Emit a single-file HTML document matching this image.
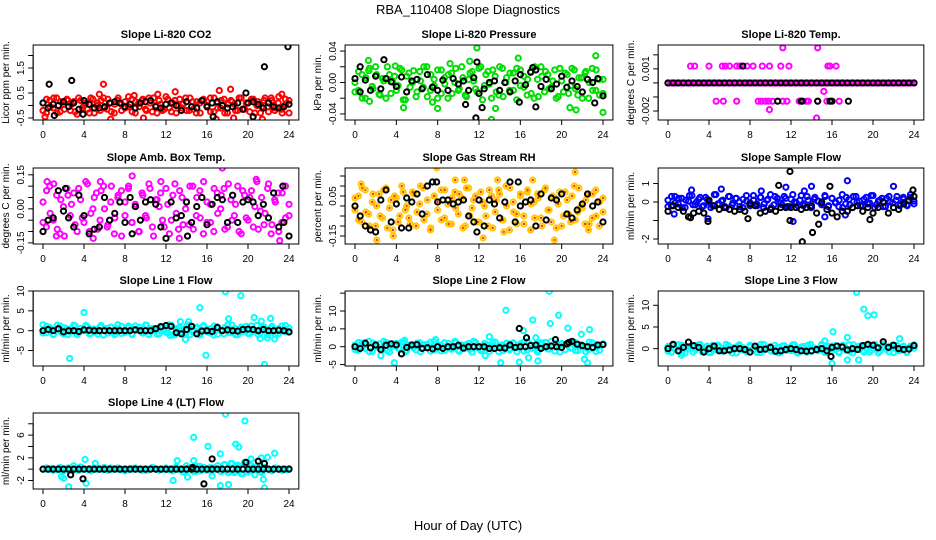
<!DOCTYPE html>
<html><head><meta charset="utf-8"><title>RBA_110408 Slope Diagnostics</title>
<style>
html,body{margin:0;padding:0;background:#fff;}
svg{display:block;font-family:"Liberation Sans",sans-serif;}
</style></head>
<body>
<svg id="chart" width="936" height="540" viewBox="0 0 936 540" xmlns="http://www.w3.org/2000/svg">
<rect width="936" height="540" fill="#fff"/>
<text x="468" y="14" text-anchor="middle" font-size="13">RBA_110408  Slope Diagnostics</text>
<text x="468" y="530" text-anchor="middle" font-size="13">Hour of Day (UTC)</text>
</svg>
<script>
// ---- shared x ticks ----
const xTicks = [0,4,8,12,16,20,24];

// ---- P1 Li-820 CO2 ----
const co2Band = [0.1,-0.3,0.2,-0.1,0.3,-0.25,0.05,0.25,-0.2,0.15,-0.35,0.2,0,-0.15,0.3,-0.3,0.1,0.2,-0.1,0.25,-0.25,0.05,0.3,-0.2,0.15,-0.05,0.25,-0.3,0.1,0.2,-0.15,0.3,-0.25,0,0.2,-0.2,0.35,-0.1,0.1,-0.3,0.25,0.05,-0.2,0.3,-0.15,0.15,-0.3,0.2,0,0.3,-0.25,0.1,-0.1,0.25,-0.3,0.2,0.05,-0.2,0.3,-0.15,0.1,0.25,-0.3,0.15,-0.05,0.3,-0.25,0.2,-0.1,0.35,-0.3,0.05,0.2];
const co2BandB = [-0.2,0.25,-0.05,0.3,-0.3,0.15,-0.15,0.2,0.05,-0.25,0.3,-0.1,0.1,-0.3,0.25,0,-0.2,0.3,-0.15,0.1,-0.3,0.2,0.05,-0.1,0.35,-0.25,0.15,-0.05,0.25,-0.2,0.1,0.3,-0.3,0.05,-0.15,0.25,-0.25,0.2,0,-0.1,0.3,-0.2,0.15,-0.3,0.1,0.25,-0.05,-0.25,0.3,-0.1,0.2,-0.3,0.05,0.15,-0.2,0.3,-0.15,0.1,-0.25,0.25,0,-0.3,0.2,-0.05,0.3,-0.2,0.1,-0.15,0.25,-0.3];
const co2BandOut = [[5.9,0.85],[5.5,0.45],[17.2,0.6],[18.3,0.65],[12.9,0.55],[16.9,-0.55],[18.6,-0.5],[6.6,-0.55],[21.4,-0.55],[8.9,0.4],[9.8,-0.5],[0.2,-0.45],[11.2,0.45],[23.3,0.45]];
const co2Black = [0.1,-0.1,0.05,0,0.15,-0.05,0.1,-0.15,0.2,0.05,-0.1,-0.1,-0.05,0.1,0.15,0.1,-0.05,0.05,-0.1,0.1,0.15,0.2,-0.05,-0.1,0.05,0.1,0,-0.2,0.15,-0.05,-0.1,0.2,-0.05,0.1,0.15,0,-0.1,-0.05,0.1,-0.15,0.1,0.15,0.05,-0.1,0.1,-0.05,-0.1,-0.05,0.05];
const co2BlackOut = [[0.6,0.85],[2.8,1.0],[21.6,1.55],[23.9,2.35],[19.8,0.5],[1.1,-0.4],[3.9,-0.35],[20.5,-0.45],[16.6,-0.45]];
const co2Ticks = [-0.5,0,0.5,1,1.5,2];
const co2Labels = ["-0.5","","0.5","","1.5",""];

// ---- P2 Li-820 Pressure ----
const presBand = [0,-0.01,0.01,-0.02,0.015,-0.005,0.02,-0.015,0.005,-0.02,0.01,0,-0.01,0.018,-0.022,0.008,-0.006,0.015,-0.012,0.002,0.02,-0.018,0.01,-0.004,0.016,-0.014,0.006,-0.02,0.012,0,-0.01,0.02,-0.016,0.004,0.014,-0.008,0.018,-0.022,0.01,-0.002,0.016,-0.012,0.02,-0.018,0.006,0.012,-0.01,0.018,-0.004,0.008,-0.016,0.014,-0.02,0.004,0.02,-0.012,0.01,-0.006,0.016,-0.018,0.002,0.012,-0.014,0.018,-0.008,0.006,-0.02,0.014,0,-0.01,0.016,-0.016,0.004];
const presBandB = [-0.012,0.014,-0.02,0.006,0.018,-0.008,0.01,-0.016,0.002,0.02,-0.014,0.008,-0.004,0.016,-0.022,0.012,0,-0.018,0.014,-0.006,0.02,-0.01,0.004,-0.02,0.016,-0.002,0.01,-0.014,0.018,-0.008,0.006,-0.018,0.012,0.002,-0.012,0.02,-0.004,0.014,-0.02,0.008,-0.016,0.018,0,-0.01,0.012,-0.022,0.016,-0.006,0.004,-0.014,0.02,-0.018,0.008,0.014,-0.008,0.002,-0.02,0.018,-0.012,0.01,-0.004,0.016,-0.016,0.006,0.012,-0.02,0.018,-0.01,0.004,-0.014];
const presBandOut = [[11.8,0.044],[15.8,0.031],[23.3,0.034],[1.3,0.028],[13.2,-0.047],[24,-0.038],[21.4,-0.035],[20.8,-0.032],[4.7,-0.032],[13.6,-0.033],[8,-0.033],[7.5,-0.025],[1.4,-0.024],[11.1,0.027],[9.2,0.024],[3.9,0.021]];
const presBlack = [0.005,-0.012,0.003,-0.01,0.008,-0.008,0.005,0.001,-0.005,0.007,-0.012,0.002,0.004,-0.008,0.01,-0.006,-0.01,0.003,-0.01,0.005,-0.002,0.002,-0.01,0.006,-0.014,-0.008,0,0.002,-0.01,0,-0.012,0.002,0.01,-0.003,0.013,0.016,-0.005,0.004,-0.008,-0.002,0.008,-0.006,0.002,-0.005,-0.012,0.004,0,0.005,-0.017];
const presBlackOut = [[2.8,0.029],[11.8,0.026],[11.7,-0.045],[12.3,-0.032],[10.7,-0.028],[15.9,-0.025],[17.5,-0.031],[23.2,-0.026],[0.5,0.02],[17.2,0.019]];
const presTicks = [-0.04,-0.02,0,0.02,0.04];
const presLabels = ["-0.04","","0.00","","0.04"];

// ---- P3 Li-820 Temp ----
const ltBand = [0,0,0,0,0,0,0,0,0,0,0,0,0,0,0,0,0,0,0,0,0,0,0,0,0,0,0,0,0,0,0,0,0,0,0,0,0,0,0,0,0,0,0,0,0,0,0,0,0,0,0,0,0,0,0,0,0,0,0,0,0,0,0,0,0,0,0,0,0,0,0,0,0,0,0,0,0,0,0,0,0,0,0,0,0,0,0,0,0,0,0,0,0,0,0,0,0];
const ltBandB = [0,0,0,0,0,0,0,0,0,0,0,0,0,0,0,0,0,0,0,0,0,0,0,0,0,0,0,0,0,0,0,0,0,0,0,0,0,0,0,0,0,0,0,0,0,0,0,0,0,0,0,0,0,0,0,0,0,0,0,0,0,0,0,0,0,0,0,0,0,0];
const ltBandOut = [[2.2,0.0012],[2.6,0.0012],[4,0.0012],[5.3,0.0012],[5.6,0.0012],[6,0.0012],[6.7,0.0012],[7,0.0012],[7.7,0.0012],[8.3,0.0012],[9.2,0.0012],[9.9,0.0012],[11,0.0012],[11.8,0.0012],[15.6,0.0012],[15.8,0.0012],[16.4,0.0012],[11.2,0.0025],[14.6,0.0025],[4.7,-0.0013],[5.4,-0.0013],[6.7,-0.0013],[8.8,-0.0013],[9.1,-0.0013],[9.5,-0.0013],[9.8,-0.0013],[10.2,-0.0013],[11.2,-0.0013],[11.6,-0.0013],[12.8,-0.0013],[13.5,-0.0013],[13.7,-0.0013],[14.6,-0.0013],[15.5,-0.0013],[16.7,-0.0013],[15.2,-0.0006],[9.9,-0.0019],[14.5,-0.0025]];
const ltBlack = [0,0,0,0,0,0,0,0,0,0,0,0,0,0,0,0,0,0,0,0,0,0,0,0,0,0,0,0,0,0,0,0,0,0,0,0,0,0,0,0,0,0,0,0,0,0,0,0,0];
const ltBlackOut = [[7.3,0.0012],[10.7,-0.0013],[13,-0.0013],[13.1,-0.0013],[14.6,-0.0013],[15.8,-0.0013],[16,-0.0013],[17.6,-0.0013]];
const ltTicks = [-0.002,-0.001,0,0.001,0.002];
const ltLabels = ["-0.002","","","0.001",""];

// ---- P4 Amb Box Temp ----
const abBand = [0.03,-0.08,0.1,-0.05,0.06,-0.11,0.01,0.09,-0.03,0.07,-0.1,0.04,-0.06,0.11,-0.02,0.05,-0.09,0.08,0,-0.07,0.1,-0.04,0.06,-0.12,0.03,0.09,-0.06,0.02,-0.1,0.07,-0.03,0.11,-0.08,0.04,0.01,-0.05,0.09,-0.11,0.06,-0.02,0.08,-0.07,0.03,0.1,-0.09,0.05,-0.04,0.12,-0.06,0.02,-0.1,0.07,0,0.09,-0.08,0.04,-0.03,0.1,-0.11,0.06,-0.05,0.08,0.01,-0.09,0.05,-0.02,0.11,-0.07,0.03,-0.1,0.07,-0.04,0.02];
const abBandB = [-0.06,0.08,-0.02,0.11,-0.09,0.04,-0.12,0.06,0.02,-0.07,0.09,-0.04,0.12,-0.1,0,0.07,-0.05,0.1,-0.08,0.03,-0.11,0.05,0.08,-0.03,0.1,-0.06,0.01,-0.1,0.06,-0.04,0.09,-0.12,0.04,0.07,-0.08,0.02,-0.05,0.11,-0.09,0.05,0,-0.07,0.1,-0.03,0.08,-0.11,0.03,-0.06,0.09,-0.02,0.06,-0.09,0.11,-0.05,0.02,-0.1,0.08,-0.04,0.05,-0.08,0.12,-0.01,-0.07,0.09,-0.11,0.04,0.07,-0.06,0.1,-0.03];
const abBandOut = [[17.5,0.18],[23.1,-0.14],[8.7,0.145],[0.4,0.12],[13.3,-0.13],[11.5,0.12],[4.9,-0.13],[20.8,0.13],[1.3,-0.12],[5.6,0.12]];
const abBlack = [-0.1,-0.05,-0.04,0.08,-0.01,-0.04,-0.08,0.06,-0.03,-0.11,-0.09,-0.08,0.05,-0.05,-0.02,0.03,-0.06,0.05,0.01,-0.05,0.03,0.04,0.02,-0.08,-0.13,0.03,-0.04,-0.03,0.03,-0.06,0.01,0.05,-0.07,0.02,0.05,0.04,-0.06,0.06,-0.06,0.03,0.04,0.03,-0.03,0.02,-0.04,0.07,-0.08,-0.06,-0.12];
const abBlackOut = [[2.2,0.09],[8.7,-0.11],[14.1,-0.12],[23.4,0.1]];
const abTicks = [-0.15,-0.1,-0.05,0,0.05,0.1,0.15];
const abLabels = ["-0.15","","","0.00","","","0.15"];

// ---- P5 Gas Stream RH ----
const rhBand = [-0.02,0.05,-0.08,0.08,-0.04,0.02,-0.1,0.06,-0.06,0.09,-0.01,-0.12,0.04,-0.05,0.07,0,-0.09,0.06,-0.03,0.1,-0.07,0.03,-0.11,0.05,-0.02,0.08,-0.06,0.01,-0.09,0.07,-0.04,0.04,-0.1,0.09,-0.01,0.05,-0.08,0.02,-0.05,0.08,-0.11,0.03,0.06,-0.07,0,0.09,-0.03,-0.09,0.05,-0.05,0.07,-0.12,0.02,0.06,-0.06,0.08,-0.02,-0.08,0.04,0.01,-0.1,0.07,-0.04,0.05,-0.07,0.09,-0.01,0.03,-0.09,0.06,-0.05,0.02,-0.03];
const rhBandB = [0.04,-0.07,0.09,-0.03,-0.1,0.06,0,-0.05,0.08,-0.11,0.03,0.05,-0.08,0.1,-0.02,-0.06,0.07,-0.1,0.01,0.09,-0.04,-0.12,0.05,0.02,-0.07,0.08,-0.09,0.04,-0.01,0.06,-0.11,0.09,-0.05,0.03,-0.08,0.07,0,-0.1,0.05,-0.03,0.08,-0.07,0.1,-0.12,0.02,-0.04,0.06,-0.09,0.08,0.01,-0.06,0.04,-0.1,0.09,-0.02,0.05,-0.11,0.07,-0.05,0.03,-0.08,0.1,-0.03,0,-0.09,0.06,-0.06,0.08,-0.1,0.04];
const rhBandOut = [[7.9,0.19],[21.3,0.17],[2.1,-0.17],[19.3,-0.17],[12.4,-0.16],[9.7,0.13],[10.6,0.13],[13.8,0.13],[17.2,0.13],[0.6,0.11],[3.7,-0.15],[14.4,-0.13],[22.6,-0.12]];
const rhBlack = [0,-0.05,-0.1,-0.12,-0.13,0.03,0.08,-0.08,0.01,-0.11,0.04,0.02,0.06,-0.04,0.1,0.12,0.02,0.03,0.03,0.01,0.02,0.03,-0.05,-0.08,0.03,-0.1,0.03,0.01,-0.06,0.02,0.12,-0.08,0,0.02,0.03,-0.1,0.06,-0.07,0.04,0.03,0.06,-0.04,-0.06,-0.02,0.01,0.06,0,0.02,-0.08];
const rhBlackOut = [[7.9,0.12],[15.8,0.12],[11.8,-0.13],[5.2,-0.11]];
const rhTicks = [-0.15,-0.1,-0.05,0,0.05,0.1,0.15];
const rhLabels = ["-0.15","","","","0.05","",""];

// ---- P6 Sample Flow ----
const sfBand = [0.1,-0.2,0.3,-0.1,0.2,-0.3,0.05,0.35,-0.15,0.15,-0.25,0.25,0,-0.2,0.4,-0.1,0.1,-0.3,0.3,-0.05,0.2,-0.25,0.15,0.05,-0.2,0.35,-0.1,0.25,-0.3,0.1,0.4,-0.15,0.2,-0.05,0.3,-0.25,0.15,0,-0.2,0.35,-0.1,0.1,-0.3,0.25,0.05,-0.15,0.3,-0.2,0.2,0,-0.25,0.4,-0.1,0.15,-0.3,0.3,0.05,-0.2,0.25,-0.05,0.35,-0.15,0.1,-0.25,0.2,0,-0.3,0.3,-0.1,0.15,-0.2,0.25,0.05];
const sfBandB = [-0.25,0.3,-0.05,0.2,-0.3,0.1,0.35,-0.15,0,0.25,-0.2,0.15,-0.3,0.4,-0.1,0.05,-0.25,0.3,-0.15,0.2,0,-0.3,0.35,-0.05,0.1,-0.2,0.25,-0.1,0.15,-0.3,0.3,0,-0.15,0.2,-0.25,0.4,-0.05,0.1,-0.2,0.3,-0.3,0.15,0.05,-0.1,0.35,-0.25,0.2,-0.05,0.1,-0.3,0.25,-0.15,0.3,0,-0.2,0.15,-0.1,0.35,-0.3,0.05,0.2,-0.25,0.3,-0.05,0.1,-0.2,0.25,-0.15,0.4,-0.1];
const sfBandOut = [[17.5,1.15],[22,0.85],[14,0.85],[12.2,-1.05],[0.6,-0.65],[3.9,-0.9],[5.2,0.7],[2.3,0.65],[11.5,0.8],[13.3,0.6],[15.3,-0.8],[17.3,-0.7],[9.1,0.6]];
const sfBlack = [-0.5,-0.2,-0.3,-0.5,-0.8,-0.6,-0.5,-0.6,0.1,-0.2,-0.4,-0.3,-0.4,-0.5,-0.4,-0.5,-0.1,-0.2,-0.6,-0.5,-0.4,-0.5,-0.3,-0.3,-0.3,-0.3,-0.4,-0.3,-0.2,-0.6,0,-0.4,-0.6,-0.8,-0.5,-0.5,-0.3,-0.2,-0.5,-0.3,-0.6,-0.3,0,-0.6,-0.3,-0.4,-0.1,0.1,0.3];
const sfBlackOut = [[11.9,1.65],[13.1,-2.15],[14.1,-1.65],[14.7,-1.2],[10.8,0.9],[15.8,0.85],[2.2,-0.85],[3.9,-1.05],[7.8,-0.9],[19.7,-0.95],[11.9,-1.0],[23.9,0.65]];
const sfTicks = [-2,-1,0,1];
const sfLabels = ["-2","","0","1"];

// ---- P7 Line 1 Flow ----
const l1Band = [1.5,-0.5,0.8,-1,0.3,1.2,-0.8,0.5,-0.3,1.4,-1,0.6,0,1,-0.7,0.4,-0.9,1.3,0.2,-0.6,0.9,-1,0.5,1.1,-0.4,0.7,-0.8,1.2,0,-0.5,1.4,-1,0.6,0.3,-0.8,1,-0.4,1.5,-1.1,0.4,0.8,-0.6,1.2,-1,0.2,0.9,-0.7,1.3,-0.3,0.5,-1.1,1,0.1,-0.8,1.4,-0.5,0.6,-1,0.9,0.3,-0.7,1.2,-0.2,-1,0.8,0.4,-0.6,1.1,-0.9,0.5,0,1.3,-0.4];
const l1BandB = [-0.6,1.1,0.2,-0.9,1.4,-0.3,0.7,-1,0.5,1.2,-0.5,0,1.3,-0.8,0.4,-0.2,1,-1.1,0.6,0.9,-0.4,1.5,-0.7,0.1,1.2,-1,0.3,0.8,-0.6,1.4,-0.2,0.5,-0.9,1.1,0,-0.5,1.3,-1,0.7,0.2,-0.8,1.5,-0.3,0.6,-1.1,1,0.4,-0.6,1.2,-0.9,0.1,0.8,-0.4,1.4,-1,0.5,-0.2,1.1,-0.7,0.3,1.3,-0.5,0.9,-1.1,0.6,0,-0.8,1.2,-0.3,0.7];
const l1BandOut = [[17.8,9.8],[19.3,8.8],[4,4.6],[15.3,5.8],[2.6,-7],[15.9,-6.2],[21.6,-8.5],[18.1,3],[21.3,2.4],[22.2,3.1],[20.6,3.3],[21.2,-2],[21.9,-1.8],[22.6,-2.1],[13.9,-2.2],[12.4,-1.2],[14.2,2.3],[13.4,2.3]];
const l1Black = [0,0.3,0,0.5,-0.3,0,0,-0.2,0.2,0.1,0,0,0,0,0,0,0,0,0.2,0,0,0,0.5,1,1.3,1.1,-0.5,-0.8,0.3,1.1,-0.8,-0.1,0,-0.2,0.8,0,0.2,0,-0.1,0.3,0.4,0.3,0,0.3,0,0,0.1,0,-0.3];
const l1BlackOut = [];
const l1Ticks = [-5,0,5,10];
const l1Labels = ["-5","0","5","10"];

// ---- P8 Line 2 Flow ----
const l2Band = [0.5,-1,1,-0.5,1.5,-1.3,0,0.8,-0.8,1.2,-1.5,0.3,0.9,-0.6,1.4,-1.1,0.2,-0.3,1,-1.4,0.6,-0.2,1.3,-0.9,0.4,-1.2,1.1,0,-0.7,1.5,-1,0.5,-0.4,0.9,-1.5,1.2,0.1,-0.8,0.7,-1.3,1.4,-0.1,0.3,-1.1,1,-0.5,0.8,-1.4,0.2,1.3,-0.9,0.6,-0.2,-1.5,1.1,0,-0.6,1.5,-1.2,0.4,0.9,-0.8,1.2,-0.3,-1.1,0.7,0.1,-1.4,1.3,-0.5,0.5,-1,0.8];
const l2BandB = [-0.8,1.2,-0.2,0.6,-1.4,1,0.3,-0.6,1.5,-1.1,0,0.8,-0.4,1.3,-1.5,0.5,0.1,-0.9,1.1,-0.3,0.7,-1.2,1.4,-0.1,0.4,-1,0.9,-0.5,1.2,-1.3,0.2,0.6,-0.8,1.5,-0.2,-1.1,0.9,0.3,-0.6,1.3,-1.4,0.5,0,-0.9,1.1,-0.3,0.8,-1.2,1.4,-0.5,0.2,-1,0.7,1.2,-0.7,-0.1,1,-1.5,0.4,0.9,-0.4,1.3,-1.1,0.6,0,-0.8,1.1,-1.3,0.3,0.7];
const l2BandOut = [[18.8,15.5],[14.6,10.2],[19.7,8.8],[17.2,7.5],[18.9,6.5],[20.6,5.2],[22.7,4.8],[16.3,4.5],[21.9,3.5],[17.5,2.5],[2.5,-2.5],[3.8,-4.5],[14.1,-4.5],[15.9,-4.3],[16.8,-3.1],[17.7,-4],[22.2,-3.5],[22.5,-4.5],[12.6,-2.5],[13,2.8],[7.8,2],[4.8,1.8]];
const l2Black = [0,-0.5,1,-0.3,0.5,-0.8,0.4,0.8,0.5,-2,-0.2,0.5,0.6,-0.5,-0.3,-0.6,0,-0.5,0,0,0.4,-0.4,0,0,0,0,-0.5,-0.5,-0.3,-0.4,0.5,-0.2,0,0,0.3,0.5,-0.5,0,0.2,0,-0.2,0.8,1.5,0.7,0.3,0,-0.2,0.5,0.6];
const l2BlackOut = [[15.9,5.1],[16.6,2.5],[19.4,2],[20.7,1.2]];
const l2Ticks = [-5,0,5,10,15];
const l2Labels = ["-5","0","5","10",""];

// ---- P9 Line 3 Flow ----
const l3Band = [0.5,-0.8,0.2,-0.5,0.8,-1,0,0.6,-0.3,0.9,-0.7,0.3,-0.9,0.7,-0.2,0.4,-0.6,1,-0.4,0.1,-1,0.6,0.2,-0.7,0.8,-0.3,0.4,-0.9,1,-0.1,0.5,-0.6,0.3,-0.8,0.7,0,-0.5,0.9,-1,0.4,-0.2,0.8,-0.6,0.1,-0.4,1,-0.9,0.5,-0.1,0.7,-0.7,0.3,-0.3,0.9,-1,0.2,0.6,-0.5,0.8,-0.8,0,0.4,-0.6,1,-0.2,0.5,-0.9,0.7,-0.4,0.3,-0.7,0.6,0.1];
const l3BandB = [-0.6,0.7,-0.2,0.9,-1,0.3,0.5,-0.8,0.1,1,-0.4,0.6,-0.9,0.2,0.8,-0.5,-0.1,0.7,-1,0.4,0.9,-0.3,-0.7,0.5,0,-0.9,1,-0.2,0.3,-0.6,0.8,-1,0.6,-0.4,0.2,0.9,-0.7,-0.1,0.5,-0.8,1,0.1,-0.5,0.7,-0.9,0.3,0.6,-0.3,-1,0.8,0,-0.6,0.9,-0.2,0.4,-0.8,0.7,-0.4,1,-1,0.2,0.5,-0.7,0.8,-0.1,-0.5,0.6,-0.9,0.3,0.9];
const l3BandOut = [[18.4,13],[19.1,9.1],[19.5,7.6],[20.1,7.8],[16.1,3.9],[17.5,2.6],[17.5,-2.6],[18.6,-2.6],[16,-3.4],[22.6,2.3],[1.3,-1.5],[15.3,1.8]];
const l3Black = [0,1,-0.5,0.3,1.5,0.7,0.3,-0.8,0,0.6,-0.5,-0.5,-0.3,0,0,-0.2,-0.8,0.6,-0.2,-0.1,0.3,-0.6,-0.5,-0.2,0,-0.2,-0.5,-0.6,-0.5,-0.2,0,-0.5,0.3,0.6,0.4,-0.3,0,-0.2,0.7,1,0.8,0.2,1.6,0.3,0.8,0,-0.2,-0.1,0.7];
const l3BlackOut = [[15.9,-1.8]];
const l3Ticks = [0,5,10];
const l3Labels = ["0","5","10"];

// ---- P10 Line 4 (LT) Flow ----
const l4Band = [0,0.2,0,-0.2,0,0.3,-0.3,0,0.2,0,-0.2,0.4,0,0,-0.3,0.2,0,0,0.3,-0.2,0,0,0.2,0,-0.3,0,0,0.2,0,-0.2,0,0,0.3,0,-0.2,0,0.2,0,-0.3,0.4,0,-0.5,0.6,0,-0.4,0.5,-0.3,0.3,0,-0.2,0.2,0,-0.4,0.8,-0.5,1,-0.6,0.7,-0.8,1.2,-0.5,0.6,-1,0.4,-0.6,0.3,0,-0.3,0.2,0,-0.2,0,0.1];
const l4BandB = [0,0,0.1,0,-0.1,0,0,0.2,0,0,-0.2,0,0,0.1,0,0,0,-0.1,0,0.2,0,0,-0.1,0,0,0.1,0,0,0,-0.2,0,0.1,0,0,0,-0.1,0,0.2,0,0,-0.3,0.3,0,-0.4,0.5,0,-0.2,0.3,0,0.6,-0.4,0.8,-0.6,1,-0.3,0.5,-0.8,0.7,-0.2,0.4,0,-0.3,0.2,0,-0.1,0.1,0,0,-0.1,0];
const l4BandOut = [[17.8,9.7],[19.7,8.5],[14.7,5.6],[16.1,4],[18.8,4.4],[19.1,3.9],[17.3,2.7],[22.6,2.8],[4.1,1.7],[13.1,1.5],[14.7,1.5],[20.3,1.8],[21.3,2],[21.9,2.1],[2.5,-3.1],[4.2,-2.5],[1.8,-1.3],[2,-1.6],[12.7,-2],[14.1,-1.4],[16.5,-1.2],[17.3,-2.9],[18.1,-2.7],[21.6,-3.3],[21.5,-1.8],[3,0.6],[5.1,1]];
const l4Black = [0,0,0,0,0,0,0,0,0,0,0,0,0,0,0,0,0,0,0,0,0,0,0,0,0,0,0,0,0,0,0,0,0,0,0,0,0,0,0,0,0,0,0,0,0,0,0,0,0];
const l4BlackOut = [[2.7,-1],[3.9,-1.7],[15.7,-2.6],[16.5,1.8],[19.8,1.2],[21,1.4],[21.6,1],[14.6,0.3]];
const l4Ticks = [-2,0,2,4,6,8];
const l4Labels = ["-2","","2","","6",""];

// ---- panel layout (geometry only) ----
const panels = [
 {name:"co2",title:"Slope Li-820 CO2",ylab:"Licor ppm per min.",col:"#ff0000",band:co2Band,bandB:co2BandB,bandOut:co2BandOut,blk:co2Black,blkOut:co2BlackOut,ticks:co2Ticks,labels:co2Labels,ymin:-0.58,ymax:2.42,c:0,r:0},
 {name:"pressure",title:"Slope Li-820 Pressure",ylab:"kPa per min.",col:"#00dd00",band:presBand,bandB:presBandB,bandOut:presBandOut,blk:presBlack,blkOut:presBlackOut,ticks:presTicks,labels:presLabels,ymin:-0.0477,ymax:0.0477,c:1,r:0},
 {name:"li820-temp",title:"Slope Li-820 Temp.",ylab:"degrees C per min.",col:"#ff00ff",band:ltBand,bandB:ltBandB,bandOut:ltBandOut,blk:ltBlack,blkOut:ltBlackOut,ticks:ltTicks,labels:ltLabels,ymin:-0.00264,ymax:0.0027,c:2,r:0},
 {name:"amb-box-temp",title:"Slope Amb. Box Temp.",ylab:"degrees C per min.",col:"#ff00ff",band:abBand,bandB:abBandB,bandOut:abBandOut,blk:abBlack,blkOut:abBlackOut,ticks:abTicks,labels:abLabels,ymin:-0.155,ymax:0.18,c:0,r:1},
 {name:"gas-stream-rh",title:"Slope Gas Stream RH",ylab:"percent per min.",col:"rh",band:rhBand,bandB:rhBandB,bandOut:rhBandOut,blk:rhBlack,blkOut:rhBlackOut,ticks:rhTicks,labels:rhLabels,ymin:-0.19,ymax:0.19,c:1,r:1},
 {name:"sample-flow",title:"Slope Sample Flow",ylab:"ml/min per min.",col:"#0000ff",band:sfBand,bandB:sfBandB,bandOut:sfBandOut,blk:sfBlack,blkOut:sfBlackOut,ticks:sfTicks,labels:sfLabels,ymin:-2.27,ymax:1.84,c:2,r:1},
 {name:"line1-flow",title:"Slope Line 1 Flow",ylab:"ml/min per min.",col:"#00ffff",band:l1Band,bandB:l1BandB,bandOut:l1BandOut,blk:l1Black,blkOut:l1BlackOut,ticks:l1Ticks,labels:l1Labels,ymin:-8.9,ymax:10,c:0,r:2},
 {name:"line2-flow",title:"Slope Line 2 Flow",ylab:"ml/min per min.",col:"#00ffff",band:l2Band,bandB:l2BandB,bandOut:l2BandOut,blk:l2Black,blkOut:l2BlackOut,ticks:l2Ticks,labels:l2Labels,ymin:-5.4,ymax:15.6,c:1,r:2},
 {name:"line3-flow",title:"Slope Line 3 Flow",ylab:"ml/min per min.",col:"#00ffff",band:l3Band,bandB:l3BandB,bandOut:l3BandOut,blk:l3Black,blkOut:l3BlackOut,ticks:l3Ticks,labels:l3Labels,ymin:-4,ymax:13.3,c:2,r:2},
 {name:"line4-flow",title:"Slope Line 4 (LT) Flow",ylab:"ml/min per min.",col:"#00ffff",band:l4Band,bandB:l4BandB,bandOut:l4BandOut,blk:l4Black,blkOut:l4BlackOut,ticks:l4Ticks,labels:l4Labels,ymin:-3.5,ymax:9.9,c:0,r:3}
];
const colX = [{x0:43,x24:289},{x0:355,x24:603},{x0:668,x24:914}];
const rowY = [{top:45,bot:120},{top:168,bot:244},{top:291,bot:366},{top:413,bot:489}];

const NS = "http://www.w3.org/2000/svg";
const svg = document.getElementById("chart");
function mk(tag, attrs, parent){
  const e = document.createElementNS(NS, tag);
  for (const k in attrs) e.setAttribute(k, attrs[k]);
  (parent||svg).appendChild(e);
  return e;
}

panels.forEach(p => {
  const cx = colX[p.c], ry = rowY[p.r];
  const ux = (cx.x24 - cx.x0) / 24;
  const left = cx.x0 - 0.96*ux, right = cx.x24 + 0.96*ux;
  const top = ry.top, bot = ry.bot;
  const xs = h => cx.x0 + h*ux;
  const ys = v => bot - (v - p.ymin) / (p.ymax - p.ymin) * (bot - top);

  const g = mk("g", {});
  
  

  const clipId = "clip-" + p.name;
  const cp = mk("clipPath", {id: clipId}, g);
  mk("rect", {x:left, y:top, width:right-left, height:bot-top}, cp);

  const title = mk("text", {x:(left+right)/2, y:top-7, "text-anchor":"middle", "font-size":"11", "font-weight":"bold"}, g);
  title.textContent = p.title;
  
  

  const yl = mk("text", {x:0, y:0, "text-anchor":"middle", "font-size":"10", transform:`translate(${left-24},${(top+bot)/2}) rotate(-90)`}, g);
  yl.textContent = p.ylab;
  
  

  const pts = mk("g", {"clip-path":`url(#${clipId})`, fill:"none"}, g);
  
  

  function dot(h, v, color){
    if (color === "rh") {
      const c = mk("circle", {cx:xs(h), cy:ys(v), r:2.6, stroke:"#ffc800", "stroke-width":2, fill:"none"}, pts);
      
      
      const d = mk("circle", {cx:xs(h), cy:ys(v), r:1.2, fill:"#ff3300"}, pts);
      
      
    } else {
      const c = mk("circle", {cx:xs(h), cy:ys(v), r:2.6, stroke:color, "stroke-width":2, fill:"none"}, pts);
      
      
    }
  }
  p.band.forEach((v,i) => dot(i*24/(p.band.length-1), v, p.col));
  p.bandB.forEach((v,i) => dot(i*24/(p.bandB.length-1), v, p.col));
  p.bandOut.forEach(d => dot(d[0], d[1], p.col));
  p.blk.forEach((v,i) => dot(i*24/(p.blk.length-1), v, "#000"));
  p.blkOut.forEach(d => dot(d[0], d[1], "#000"));

  const box = mk("rect", {x:left, y:top, width:right-left, height:bot-top, fill:"none", stroke:"#000", "stroke-width":1}, g);
  
  

  // x axis
  mk("line", {x1:xs(0), x2:xs(24), y1:bot, y2:bot, stroke:"#000"}, g);
  xTicks.forEach(t => {
    const tk = mk("line", {x1:xs(t), x2:xs(t), y1:bot, y2:bot+5, stroke:"#000"}, g);
    
    
    const tl = mk("text", {x:xs(t), y:bot+18, "text-anchor":"middle", "font-size":"10"}, g);
    tl.textContent = String(t);
    
    
  });
  // y axis
  mk("line", {x1:left, x2:left, y1:ys(p.ticks[0]), y2:ys(p.ticks[p.ticks.length-1]), stroke:"#000"}, g);
  p.ticks.forEach((t,i) => {
    const tk = mk("line", {x1:left-5, x2:left, y1:ys(t), y2:ys(t), stroke:"#000"}, g);
    
    
    if (p.labels[i]) {
      const tl = mk("text", {x:0, y:0, "text-anchor":"middle", "font-size":"10", transform:`translate(${left-9},${ys(t)}) rotate(-90)`}, g);
      tl.textContent = p.labels[i];
      
      
    }
  });
});
</script>
</body></html>
